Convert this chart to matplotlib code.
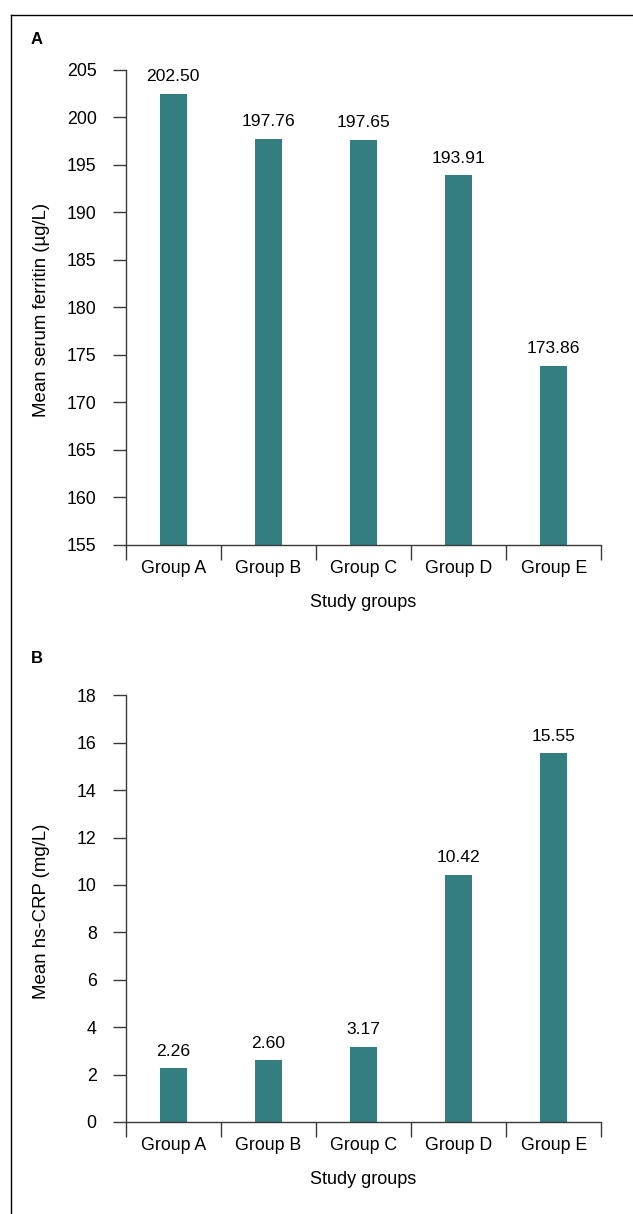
import matplotlib
matplotlib.use("Agg")
import matplotlib.pyplot as plt
from matplotlib.lines import Line2D

plt.rcParams['font.family'] = ['Liberation Sans', 'DejaVu Sans']

groups = ["Group A", "Group B", "Group C", "Group D", "Group E"]
ferritin = [202.50, 197.76, 197.65, 193.91, 173.86]
hscrp = [2.26, 2.60, 3.17, 10.42, 15.55]
ferritin_ticks = [155, 160, 165, 170, 175, 180, 185, 190, 195, 200, 205]
hscrp_ticks = [0, 2, 4, 6, 8, 10, 12, 14, 16, 18]

W, H = 633, 1214
DPI = 100
fig = plt.figure(figsize=(W / DPI, H / DPI), dpi=DPI)

BAR = "#347e80"
AXC = "#3a3a3a"
FS = 12.8

def fx(px):
    return px / W

def fy(py):
    return 1 - py / H

def make_panel(top_px, bot_px, values, ticks, ylabel, letter, letter_y):
    left, right = 125.7, 601.3
    ax = fig.add_axes([fx(left), fy(bot_px), fx(right) - fx(left), fy(top_px) - fy(bot_px)])
    xs = [i + 0.5 for i in range(len(groups))]
    bars = ax.bar(xs, values, width=0.28, color=BAR, zorder=2)
    ax.set_xlim(0, len(groups))
    ax.set_ylim(ticks[0], ticks[-1])
    ax.set_yticks(ticks)
    ax.set_yticklabels([str(t) for t in ticks], fontsize=FS)
    ax.set_xticks(xs)
    ax.set_xticklabels(groups, fontsize=FS)
    ax.set_xticks(range(len(groups) + 1), minor=True)
    ax.tick_params(axis='x', which='major', length=0, pad=11)
    ax.tick_params(axis='x', which='minor', length=10.8, width=1.0, color=AXC, direction='out')
    ax.tick_params(axis='y', which='major', length=9.4, width=1.0, color=AXC, pad=11.5)
    for s in ['top', 'right']:
        ax.spines[s].set_visible(False)
    for s in ['left', 'bottom']:
        ax.spines[s].set_color(AXC)
        ax.spines[s].set_linewidth(1.0)
    ax.bar_label(bars, labels=[f"{v:.2f}" for v in values], padding=7, fontsize=12.6)
    ax.set_ylabel(ylabel, fontsize=13.4, va='center', ha='center')
    ax.yaxis.set_label_coords((42 - left) / (right - left), 0.494)
    ax.set_xlabel("Study groups", fontsize=13, va='center', ha='center')
    ax.xaxis.set_label_coords(0.5, -(58) / (bot_px - top_px))
    fig.text(fx(30.5), fy(letter_y), letter, fontsize=12, fontweight='bold', ha='left', va='baseline')
    return ax

make_panel(70, 544.7, ferritin, ferritin_ticks, "Mean serum ferritin (µg/L)", "A", 44)
make_panel(695.3, 1122, hscrp, hscrp_ticks, "Mean hs-CRP (mg/L)", "B", 663)

# outer frame
fig.add_artist(Line2D([fx(10.5), fx(10.5)], [fy(14.7), 0], color='black', linewidth=1.0))
fig.add_artist(Line2D([fx(10.5), 1], [fy(14.7), fy(14.7)], color='black', linewidth=1.0))

fig.savefig("out.png", dpi=DPI)
